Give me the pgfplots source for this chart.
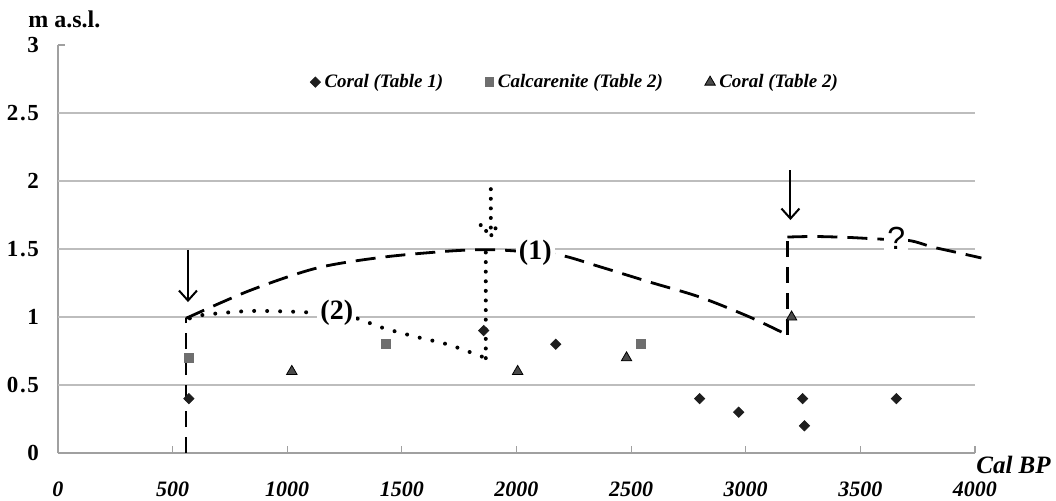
\documentclass[border=0pt]{standalone}
\usepackage{fontspec}
\setmainfont{Liberation Serif}
\newfontfamily\sansf{Liberation Sans}
\usepackage{pgfplots}
\pgfplotsset{compat=1.18}
\usetikzlibrary{arrows.meta}
\definecolor{gridgray}{HTML}{BDBDBD}
\definecolor{axisgray}{HTML}{A0A0A0}
\definecolor{diam}{HTML}{1E1E1E}
\definecolor{sq}{HTML}{6E6E6E}
\definecolor{tri}{HTML}{4A4A4A}
\begin{document}
\begin{tikzpicture}
\path[use as bounding box] (-29pt,-23.5pt) rectangle (499pt,226.5pt);
\begin{axis}[
  at={(0,0)}, anchor=south west,
  width=458.5pt, height=204pt, scale only axis,
  xmin=0, xmax=4000, ymin=0, ymax=3,
  clip=false,
  axis x line=bottom, axis y line=left,
  axis line style={draw=axisgray, line width=0.6pt, -},
  xtick={0,500,...,4000}, ytick={0,0.5,...,3},
  yticklabels={0,0{\kern0.8pt}.{\kern0.8pt}5,1,1{\kern0.8pt}.{\kern0.8pt}5,2,2{\kern0.8pt}.{\kern0.8pt}5,3},
  tick align=inside, major tick length=3.5pt,
  tick style={draw=axisgray, line width=0.6pt},
  extra y ticks={0.5,1,1.5,2,2.5}, extra y tick labels={},
  extra y tick style={grid=major, major tick length=0pt},
  grid style={draw=gridgray, line width=0.6pt},
  /pgf/number format/assume math mode=true,
  /pgf/number format/1000 sep={},
  yticklabel style={font=\bfseries\fontsize{11.5}{13}\selectfont, xshift=-6pt},
  xticklabel style={font=\bfseries\itshape\fontsize{11}{13}\selectfont, yshift=-11pt},
  legend style={draw=none, fill=none, at={(rel axis cs:0.565,0.909)}, anchor=center,
    font=\bfseries\itshape\fontsize{9.5}{11}\selectfont, legend columns=3,
    /tikz/every even column/.append style={column sep=19pt}},
  legend image code/.code={\draw[mark repeat=2,mark phase=2,#1] plot coordinates {(0pt,0pt)(3pt,0pt)(6pt,0pt)};},
]
% dashed curve (1)
\addplot[forget plot, black, line width=1.4pt, dash pattern=on 8pt off 5pt] coordinates {(558,0) (558,0.99)};
\addplot[forget plot, black, line width=1.4pt, dash pattern=on 10pt off 5pt, smooth] coordinates {
 (558,0.99) (837,1.195) (1129,1.36) (1417,1.44) (1709,1.485) (1870,1.495) (2001,1.485) (2188,1.456) (2363,1.37) (2581,1.257) (2799,1.147) (3017,1.0) (3182,0.868)};
\addplot[forget plot, black, line width=1.4pt, dash pattern=on 8pt off 5pt] coordinates {(3182,0.868) (3182,1.588)};
\addplot[forget plot, black, line width=1.4pt, dash pattern=on 10pt off 5pt, smooth] coordinates {
 (3182,1.588) (3300,1.592) (3450,1.585) (3570,1.574) (3714,1.562) (3814,1.515) (3920,1.475) (4028,1.434)};
% dotted curve (2)
\addplot[forget plot, black, line width=2pt, line cap=round, dash pattern=on 0pt off 6.5pt, smooth] coordinates {
 (575,0.99) (632,1.015) (837,1.044) (1055,1.037) (1200,1.02) (1303,0.99) (1417,0.92) (1565,0.853) (1709,0.794) (1866,0.698)};
\addplot[forget plot, black, line width=2pt, line cap=round, dash pattern=on 0pt off 4.8pt] coordinates {(1866,0.698) (1866,1.49)};
% dotted arrow
\addplot[forget plot, black, line width=2pt, line cap=round, dash pattern=on 0pt off 4.8pt] coordinates {(1888,1.94) (1888,1.61)};
\addplot[forget plot, black, line width=2pt, line cap=round, dash pattern=on 0pt off 4pt] coordinates {(1844,1.676) (1888,1.595) (1922,1.69)};
% solid arrows
\addplot[forget plot, black, line width=1pt, -{Straight Barb[length=5pt,width=9pt,line width=1pt]}] coordinates {(567,1.493) (567,1.11)};
\addplot[forget plot, black, line width=1pt, -{Straight Barb[length=5pt,width=9pt,line width=1pt]}] coordinates {(3195,2.08) (3195,1.713)};
% labels
\node[font=\bfseries\fontsize{14}{16}\selectfont, fill=white, inner sep=1.5pt] at (axis cs:2082,1.47) {(1)};
\node[font=\bfseries\fontsize{14}{16}\selectfont, fill=white, inner sep=1.5pt] at (axis cs:1216,1.03) {(2)};
\node[font=\sansf\fontsize{16}{18}\selectfont, fill=white, inner sep=1.5pt] at (axis cs:3657,1.58) {?};
\node[anchor=base west, inner sep=0pt, xshift=-15pt, yshift=9pt, font=\bfseries\fontsize{12}{14}\selectfont] at (rel axis cs:0,1) {m a.s.l.};
\node[anchor=base west, inner sep=0pt, xshift=0.5pt, yshift=-10pt, font=\bfseries\itshape\fontsize{12.5}{14}\selectfont] at (rel axis cs:1,0) {Cal BP};
% data
\addplot[only marks, mark=square*, mark size=1.8pt, mark options={rotate=45, fill=diam, draw=diam}] coordinates {
 (571,0.40) (1857,0.90) (2171,0.80) (2799,0.40) (2969,0.30) (3248,0.40) (3256,0.20) (3657,0.40)};
\addlegendentry{Coral (Table 1)}
\addplot[only marks, mark=square*, mark size=2.2pt, mark options={fill=sq, draw=sq}] coordinates {
 (571,0.70) (1430,0.80) (2541,0.80)};
\addlegendentry{Calcarenite (Table 2)}
\addplot[only marks, mark=triangle*, mark size=3pt, mark options={fill=tri, draw=black, line width=0.4pt}] coordinates {
 (1020,0.60) (2005,0.60) (2480,0.70) (3200,1.00)};
\addlegendentry{Coral (Table 2)}
\end{axis}
\end{tikzpicture}
\end{document}
